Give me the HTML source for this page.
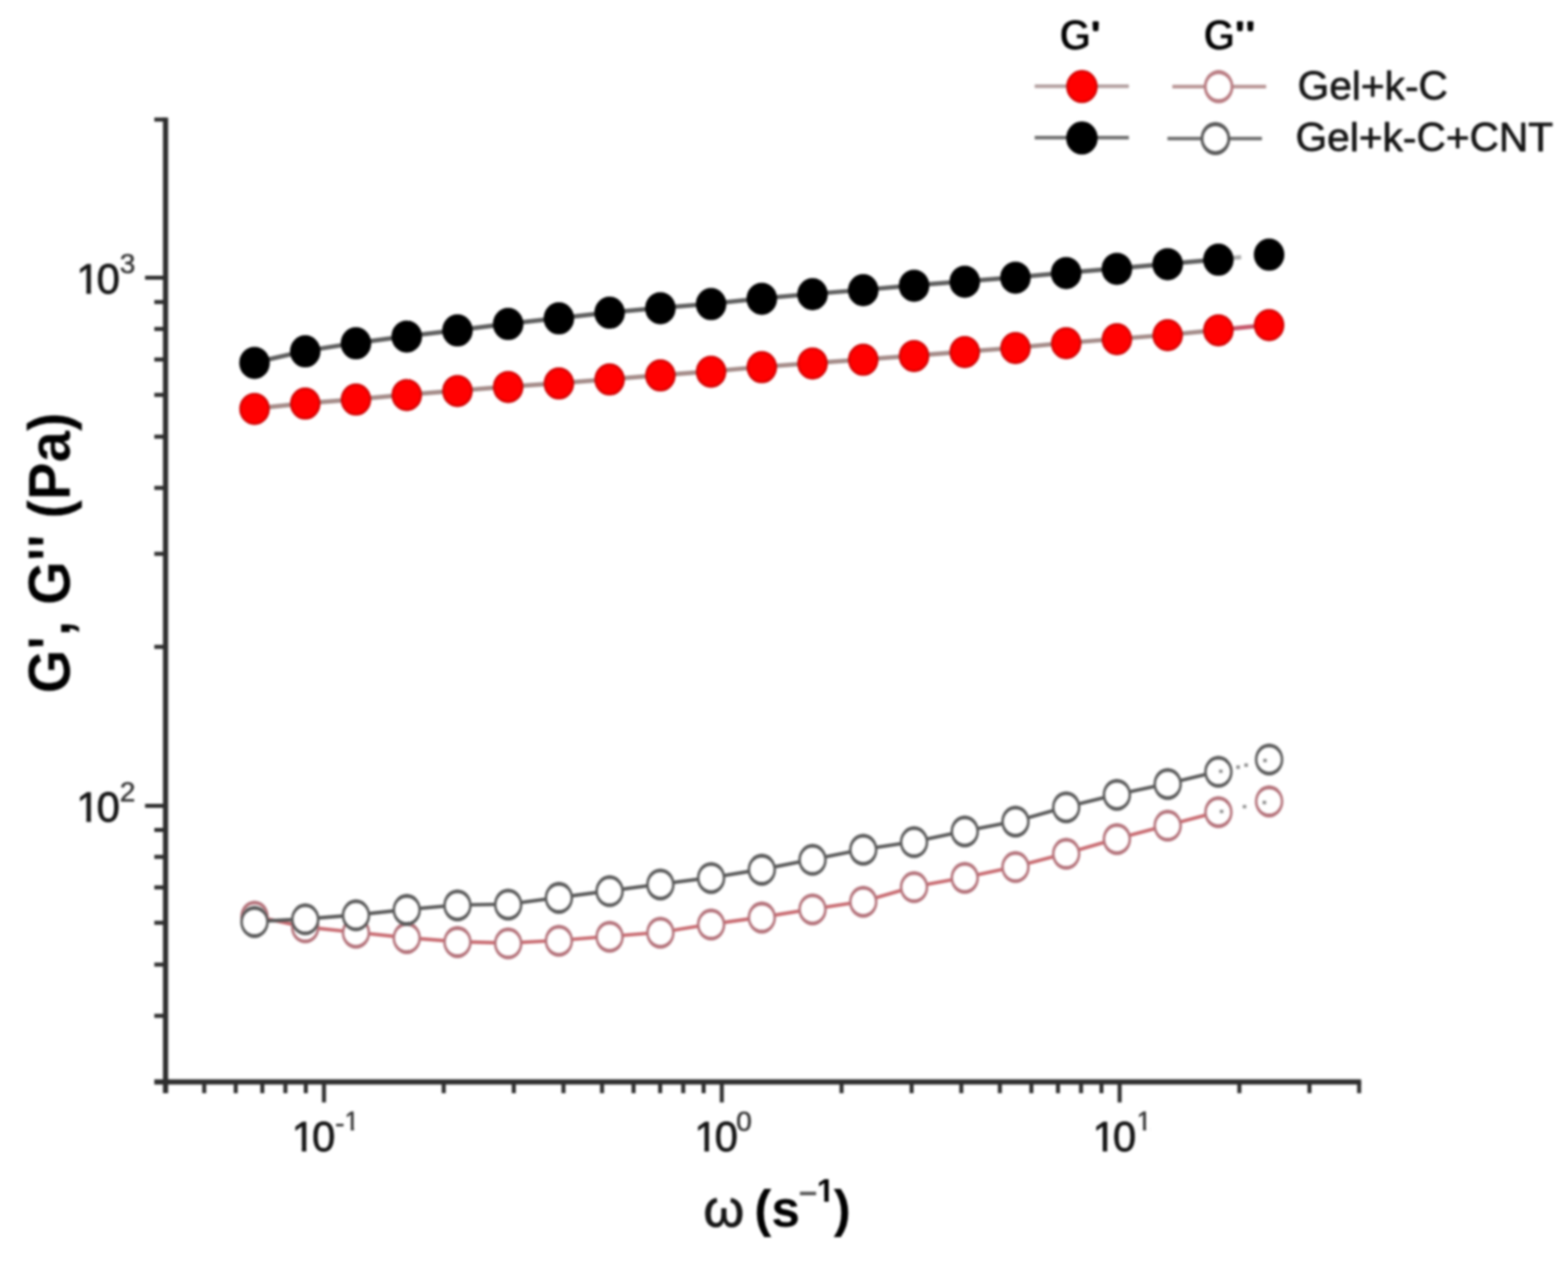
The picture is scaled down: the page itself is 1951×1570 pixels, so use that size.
<!DOCTYPE html>
<html lang="en">
<head>
<meta charset="utf-8">
<title>G', G'' vs angular frequency</title>
<style>
html,body{margin:0;padding:0;background:#fff;}
body{width:1951px;height:1570px;overflow:hidden;position:relative;}
svg{display:block;position:absolute;left:0;top:0;filter:blur(1.7px);}
text{font-family:"Liberation Sans",sans-serif;fill:#151515;}
text.b{font-weight:bold;fill:#000;stroke:#fff;stroke-width:1px;}
text.x{stroke:none;}
text.y{stroke-width:0.3px;}
text.x .m{fill:#555;}
text.b .q{stroke:#000;stroke-width:3px;stroke-linejoin:round;}
text.t{stroke:#151515;stroke-width:1px;stroke-linejoin:round;}
text.t .s{stroke:#333;stroke-width:0.6px;fill:#333;}
text.l{stroke:#151515;stroke-width:0.9px;stroke-linejoin:round;}
text.w{stroke:#151515;stroke-width:1.1px;stroke-linejoin:round;}
</style>
</head>
<body>
<svg role="img" aria-label="Storage modulus G' and loss modulus G'' versus angular frequency" width="1951" height="1570" viewBox="0 0 1951 1570">
<defs>
<clipPath id="k0" clipPathUnits="userSpaceOnUse"><path clip-rule="evenodd" d="M0 0H1951 V1570 H0Z M97.60 359.30 H107.55 V366.10 H97.60 Z M113.18 359.30 H122.56 V366.10 H113.18 Z"/></clipPath>
<clipPath id="k1" clipPathUnits="userSpaceOnUse"><path clip-rule="evenodd" d="M0 0H1951 V1570 H0Z M97.60 1016.30 H107.55 V1023.10 H97.60 Z M113.18 1016.30 H122.56 V1023.10 H113.18 Z"/></clipPath>
<clipPath id="k2" clipPathUnits="userSpaceOnUse"><path clip-rule="evenodd" d="M0 0H1951 V1570 H0Z M365.60 1426.30 H375.55 V1433.10 H365.60 Z M381.18 1426.30 H390.56 V1433.10 H381.18 Z M430.43 1402.06 H436.46 V1407.40 H430.43 Z M440.35 1402.06 H446.03 V1407.40 H440.35 Z"/></clipPath>
<clipPath id="k3" clipPathUnits="userSpaceOnUse"><path clip-rule="evenodd" d="M0 0H1951 V1570 H0Z M866.60 1426.30 H876.55 V1433.10 H866.60 Z M882.18 1426.30 H891.56 V1433.10 H882.18 Z"/></clipPath>
<clipPath id="k4" clipPathUnits="userSpaceOnUse"><path clip-rule="evenodd" d="M0 0H1951 V1570 H0Z M1362.10 1426.30 H1372.05 V1433.10 H1362.10 Z M1377.68 1426.30 H1387.06 V1433.10 H1377.68 Z M1416.12 1402.06 H1422.16 V1407.40 H1416.12 Z M1426.05 1402.06 H1431.72 V1407.40 H1426.05 Z"/></clipPath>
<clipPath id="k5" clipPathUnits="userSpaceOnUse"><path clip-rule="evenodd" d="M0 0H1951 V1570 H0Z M1017.90 1489.32 H1025.62 V1495.30 H1017.90 Z M1031.14 1489.32 H1038.30 V1495.30 H1031.14 Z"/></clipPath>
</defs>
<rect x="0" y="0" width="1951" height="1570" fill="#fff"/>
<g id="axes" stroke="#2e2e2e" fill="none" stroke-linecap="butt">
<path d="M206.0 146.2 V1360.0" stroke-width="6.5"/>
<path d="M192.0 1346.0 H1693.6" stroke-width="6.5"/>
<path d="M254.1 1346.0 v14.0 M293.3 1346.0 v14.0 M326.4 1346.0 v14.0 M355.1 1346.0 v14.0 M380.5 1346.0 v14.0 M403.1 1346.0 v25.5 M552.1 1346.0 v14.0 M639.3 1346.0 v14.0 M701.1 1346.0 v14.0 M749.1 1346.0 v14.0 M788.3 1346.0 v14.0 M821.4 1346.0 v14.0 M850.1 1346.0 v14.0 M875.5 1346.0 v14.0 M898.1 1346.0 v25.5 M1047.1 1346.0 v14.0 M1134.3 1346.0 v14.0 M1196.1 1346.0 v14.0 M1244.1 1346.0 v14.0 M1283.3 1346.0 v14.0 M1316.4 1346.0 v14.0 M1345.1 1346.0 v14.0 M1370.5 1346.0 v14.0 M1393.1 1346.0 v25.5 M1542.1 1346.0 v14.0 M1629.3 1346.0 v14.0 M1691.1 1346.0 v14.0" stroke-width="5.0"/>
<path d="M206.0 1263.8 h-14.0 M206.0 1200.1 h-14.0 M206.0 1148.1 h-14.0 M206.0 1104.1 h-14.0 M206.0 1066.1 h-14.0 M206.0 1032.5 h-14.0 M206.0 1002.4 h-25.5 M206.0 804.7 h-14.0 M206.0 689.0 h-14.0 M206.0 607.0 h-14.0 M206.0 543.3 h-14.0 M206.0 491.3 h-14.0 M206.0 447.3 h-14.0 M206.0 409.3 h-14.0 M206.0 375.7 h-14.0 M206.0 345.6 h-25.5 M206.0 148.7 h-14.0" stroke-width="5.0"/>
</g>
<g id="g2-gel-kc">
<path d="M316.7 1139.9 L379.8 1153.2 L442.9 1159.9 L506.1 1166.5 L569.2 1171.5 L632.3 1173.2 L695.4 1169.9 L758.5 1164.9 L821.7 1159.9 L884.8 1149.7 L947.9 1141.0 L1011.0 1130.8 L1074.1 1121.4 L1137.3 1103.2 L1200.4 1091.6 L1263.5 1078.2 L1326.6 1061.7 L1389.7 1043.4 L1452.9 1026.7 L1516.0 1009.9" fill="none" stroke="#c86a70" stroke-width="4.4"/>
<ellipse cx="316.7" cy="1140.4" rx="17.7" ry="19.9" fill="#b4727a"/><ellipse cx="316.7" cy="1140.4" rx="14.5" ry="15.1" fill="#fff"/>
<ellipse cx="379.8" cy="1153.7" rx="17.7" ry="19.9" fill="#b4727a"/><ellipse cx="379.8" cy="1153.7" rx="14.5" ry="15.1" fill="#fff"/>
<ellipse cx="442.9" cy="1160.4" rx="17.7" ry="19.9" fill="#b4727a"/><ellipse cx="442.9" cy="1160.4" rx="14.5" ry="15.1" fill="#fff"/>
<ellipse cx="506.1" cy="1167.0" rx="17.7" ry="19.9" fill="#b4727a"/><ellipse cx="506.1" cy="1167.0" rx="14.5" ry="15.1" fill="#fff"/>
<ellipse cx="569.2" cy="1172.0" rx="17.7" ry="19.9" fill="#b4727a"/><ellipse cx="569.2" cy="1172.0" rx="14.5" ry="15.1" fill="#fff"/>
<ellipse cx="632.3" cy="1173.7" rx="17.7" ry="19.9" fill="#b4727a"/><ellipse cx="632.3" cy="1173.7" rx="14.5" ry="15.1" fill="#fff"/>
<ellipse cx="695.4" cy="1170.4" rx="17.7" ry="19.9" fill="#b4727a"/><ellipse cx="695.4" cy="1170.4" rx="14.5" ry="15.1" fill="#fff"/>
<ellipse cx="758.5" cy="1165.4" rx="17.7" ry="19.9" fill="#b4727a"/><ellipse cx="758.5" cy="1165.4" rx="14.5" ry="15.1" fill="#fff"/>
<ellipse cx="821.7" cy="1160.4" rx="17.7" ry="19.9" fill="#b4727a"/><ellipse cx="821.7" cy="1160.4" rx="14.5" ry="15.1" fill="#fff"/>
<ellipse cx="884.8" cy="1150.2" rx="17.7" ry="19.9" fill="#b4727a"/><ellipse cx="884.8" cy="1150.2" rx="14.5" ry="15.1" fill="#fff"/>
<ellipse cx="947.9" cy="1141.5" rx="17.7" ry="19.9" fill="#b4727a"/><ellipse cx="947.9" cy="1141.5" rx="14.5" ry="15.1" fill="#fff"/>
<ellipse cx="1011.0" cy="1131.3" rx="17.7" ry="19.9" fill="#b4727a"/><ellipse cx="1011.0" cy="1131.3" rx="14.5" ry="15.1" fill="#fff"/>
<ellipse cx="1074.1" cy="1121.9" rx="17.7" ry="19.9" fill="#b4727a"/><ellipse cx="1074.1" cy="1121.9" rx="14.5" ry="15.1" fill="#fff"/>
<ellipse cx="1137.3" cy="1103.7" rx="17.7" ry="19.9" fill="#b4727a"/><ellipse cx="1137.3" cy="1103.7" rx="14.5" ry="15.1" fill="#fff"/>
<ellipse cx="1200.4" cy="1092.1" rx="17.7" ry="19.9" fill="#b4727a"/><ellipse cx="1200.4" cy="1092.1" rx="14.5" ry="15.1" fill="#fff"/>
<ellipse cx="1263.5" cy="1078.7" rx="17.7" ry="19.9" fill="#b4727a"/><ellipse cx="1263.5" cy="1078.7" rx="14.5" ry="15.1" fill="#fff"/>
<ellipse cx="1326.6" cy="1062.2" rx="17.7" ry="19.9" fill="#b4727a"/><ellipse cx="1326.6" cy="1062.2" rx="14.5" ry="15.1" fill="#fff"/>
<ellipse cx="1389.7" cy="1043.9" rx="17.7" ry="19.9" fill="#b4727a"/><ellipse cx="1389.7" cy="1043.9" rx="14.5" ry="15.1" fill="#fff"/>
<ellipse cx="1452.9" cy="1027.2" rx="17.7" ry="19.9" fill="#b4727a"/><ellipse cx="1452.9" cy="1027.2" rx="14.5" ry="15.1" fill="#fff"/>
<ellipse cx="1516.0" cy="1010.4" rx="17.7" ry="19.9" fill="#b4727a"/><ellipse cx="1516.0" cy="1010.4" rx="14.5" ry="15.1" fill="#fff"/>
<ellipse cx="1579.1" cy="997.0" rx="17.7" ry="19.9" fill="#b4727a"/><ellipse cx="1579.1" cy="997.0" rx="14.5" ry="15.1" fill="#fff"/>
<path d="M1517.8 1009.5 h4.4 M1546.3 1003.5 h4.4 M1571.0 998.3 h4.4" fill="none" stroke="#777" stroke-width="4.2" stroke-opacity="0.85"/>
</g>
<g id="g2-gel-kc-cnt">
<path d="M316.7 1146.5 L379.8 1143.2 L442.9 1138.2 L506.1 1131.5 L569.2 1125.9 L632.3 1124.9 L695.4 1116.5 L758.5 1108.2 L821.7 1099.9 L884.8 1091.8 L947.9 1081.5 L1011.0 1069.2 L1074.1 1056.6 L1137.3 1047.2 L1200.4 1033.9 L1263.5 1021.6 L1326.6 1003.9 L1389.7 988.3 L1452.9 974.9 L1516.0 959.7" fill="none" stroke="#585858" stroke-width="4.4"/>
<ellipse cx="316.7" cy="1147.0" rx="17.7" ry="19.9" fill="#5a5a5a"/><ellipse cx="316.7" cy="1147.0" rx="14.5" ry="15.1" fill="#fff"/>
<ellipse cx="379.8" cy="1143.7" rx="17.7" ry="19.9" fill="#5a5a5a"/><ellipse cx="379.8" cy="1143.7" rx="14.5" ry="15.1" fill="#fff"/>
<ellipse cx="442.9" cy="1138.7" rx="17.7" ry="19.9" fill="#5a5a5a"/><ellipse cx="442.9" cy="1138.7" rx="14.5" ry="15.1" fill="#fff"/>
<ellipse cx="506.1" cy="1132.0" rx="17.7" ry="19.9" fill="#5a5a5a"/><ellipse cx="506.1" cy="1132.0" rx="14.5" ry="15.1" fill="#fff"/>
<ellipse cx="569.2" cy="1126.4" rx="17.7" ry="19.9" fill="#5a5a5a"/><ellipse cx="569.2" cy="1126.4" rx="14.5" ry="15.1" fill="#fff"/>
<ellipse cx="632.3" cy="1125.4" rx="17.7" ry="19.9" fill="#5a5a5a"/><ellipse cx="632.3" cy="1125.4" rx="14.5" ry="15.1" fill="#fff"/>
<ellipse cx="695.4" cy="1117.0" rx="17.7" ry="19.9" fill="#5a5a5a"/><ellipse cx="695.4" cy="1117.0" rx="14.5" ry="15.1" fill="#fff"/>
<ellipse cx="758.5" cy="1108.7" rx="17.7" ry="19.9" fill="#5a5a5a"/><ellipse cx="758.5" cy="1108.7" rx="14.5" ry="15.1" fill="#fff"/>
<ellipse cx="821.7" cy="1100.4" rx="17.7" ry="19.9" fill="#5a5a5a"/><ellipse cx="821.7" cy="1100.4" rx="14.5" ry="15.1" fill="#fff"/>
<ellipse cx="884.8" cy="1092.3" rx="17.7" ry="19.9" fill="#5a5a5a"/><ellipse cx="884.8" cy="1092.3" rx="14.5" ry="15.1" fill="#fff"/>
<ellipse cx="947.9" cy="1082.0" rx="17.7" ry="19.9" fill="#5a5a5a"/><ellipse cx="947.9" cy="1082.0" rx="14.5" ry="15.1" fill="#fff"/>
<ellipse cx="1011.0" cy="1069.7" rx="17.7" ry="19.9" fill="#5a5a5a"/><ellipse cx="1011.0" cy="1069.7" rx="14.5" ry="15.1" fill="#fff"/>
<ellipse cx="1074.1" cy="1057.1" rx="17.7" ry="19.9" fill="#5a5a5a"/><ellipse cx="1074.1" cy="1057.1" rx="14.5" ry="15.1" fill="#fff"/>
<ellipse cx="1137.3" cy="1047.7" rx="17.7" ry="19.9" fill="#5a5a5a"/><ellipse cx="1137.3" cy="1047.7" rx="14.5" ry="15.1" fill="#fff"/>
<ellipse cx="1200.4" cy="1034.4" rx="17.7" ry="19.9" fill="#5a5a5a"/><ellipse cx="1200.4" cy="1034.4" rx="14.5" ry="15.1" fill="#fff"/>
<ellipse cx="1263.5" cy="1022.1" rx="17.7" ry="19.9" fill="#5a5a5a"/><ellipse cx="1263.5" cy="1022.1" rx="14.5" ry="15.1" fill="#fff"/>
<ellipse cx="1326.6" cy="1004.4" rx="17.7" ry="19.9" fill="#5a5a5a"/><ellipse cx="1326.6" cy="1004.4" rx="14.5" ry="15.1" fill="#fff"/>
<ellipse cx="1389.7" cy="988.8" rx="17.7" ry="19.9" fill="#5a5a5a"/><ellipse cx="1389.7" cy="988.8" rx="14.5" ry="15.1" fill="#fff"/>
<ellipse cx="1452.9" cy="975.4" rx="17.7" ry="19.9" fill="#5a5a5a"/><ellipse cx="1452.9" cy="975.4" rx="14.5" ry="15.1" fill="#fff"/>
<ellipse cx="1516.0" cy="960.2" rx="17.7" ry="19.9" fill="#5a5a5a"/><ellipse cx="1516.0" cy="960.2" rx="14.5" ry="15.1" fill="#fff"/>
<ellipse cx="1579.1" cy="944.9" rx="17.7" ry="19.9" fill="#5a5a5a"/><ellipse cx="1579.1" cy="944.9" rx="14.5" ry="15.1" fill="#fff"/>
<path d="M1516.8 959.5 h4.4 M1538.3 954.3 h4.4 M1548.3 951.8 h4.4 M1571.8 946.1 h4.4" fill="none" stroke="#777" stroke-width="4.2" stroke-opacity="0.85"/>
</g>
<g id="g1-gel-kc">
<path d="M316.7 508.3 L379.8 501.7 L442.9 496.7 L506.1 491.0 L569.2 486.0 L632.3 481.0 L695.4 476.7 L758.5 471.7 L821.7 466.7 L884.8 462.0 L947.9 456.4 L1011.0 451.8 L1074.1 447.2 L1137.3 442.5 L1200.4 437.5 L1263.5 432.6 L1326.6 426.6 L1389.7 421.6 L1452.9 416.6 L1516.0 410.5" fill="none" stroke="#a48b88" stroke-width="5.4"/>
<path d="M1516.0 410.5 L1579.1 404.1" fill="none" stroke="#c4566a" stroke-width="5.4"/>
<ellipse cx="316.7" cy="508.7" rx="17.8" ry="18.8" fill="#ff0000" stroke="#cf0000" stroke-width="2.4"/>
<ellipse cx="379.8" cy="502.1" rx="17.8" ry="18.8" fill="#ff0000" stroke="#cf0000" stroke-width="2.4"/>
<ellipse cx="442.9" cy="497.1" rx="17.8" ry="18.8" fill="#ff0000" stroke="#cf0000" stroke-width="2.4"/>
<ellipse cx="506.1" cy="491.4" rx="17.8" ry="18.8" fill="#ff0000" stroke="#cf0000" stroke-width="2.4"/>
<ellipse cx="569.2" cy="486.4" rx="17.8" ry="18.8" fill="#ff0000" stroke="#cf0000" stroke-width="2.4"/>
<ellipse cx="632.3" cy="481.4" rx="17.8" ry="18.8" fill="#ff0000" stroke="#cf0000" stroke-width="2.4"/>
<ellipse cx="695.4" cy="477.1" rx="17.8" ry="18.8" fill="#ff0000" stroke="#cf0000" stroke-width="2.4"/>
<ellipse cx="758.5" cy="472.1" rx="17.8" ry="18.8" fill="#ff0000" stroke="#cf0000" stroke-width="2.4"/>
<ellipse cx="821.7" cy="467.1" rx="17.8" ry="18.8" fill="#ff0000" stroke="#cf0000" stroke-width="2.4"/>
<ellipse cx="884.8" cy="462.4" rx="17.8" ry="18.8" fill="#ff0000" stroke="#cf0000" stroke-width="2.4"/>
<ellipse cx="947.9" cy="456.8" rx="17.8" ry="18.8" fill="#ff0000" stroke="#cf0000" stroke-width="2.4"/>
<ellipse cx="1011.0" cy="452.2" rx="17.8" ry="18.8" fill="#ff0000" stroke="#cf0000" stroke-width="2.4"/>
<ellipse cx="1074.1" cy="447.6" rx="17.8" ry="18.8" fill="#ff0000" stroke="#cf0000" stroke-width="2.4"/>
<ellipse cx="1137.3" cy="442.9" rx="17.8" ry="18.8" fill="#ff0000" stroke="#cf0000" stroke-width="2.4"/>
<ellipse cx="1200.4" cy="437.9" rx="17.8" ry="18.8" fill="#ff0000" stroke="#cf0000" stroke-width="2.4"/>
<ellipse cx="1263.5" cy="433.0" rx="17.8" ry="18.8" fill="#ff0000" stroke="#cf0000" stroke-width="2.4"/>
<ellipse cx="1326.6" cy="427.0" rx="17.8" ry="18.8" fill="#ff0000" stroke="#cf0000" stroke-width="2.4"/>
<ellipse cx="1389.7" cy="422.0" rx="17.8" ry="18.8" fill="#ff0000" stroke="#cf0000" stroke-width="2.4"/>
<ellipse cx="1452.9" cy="417.0" rx="17.8" ry="18.8" fill="#ff0000" stroke="#cf0000" stroke-width="2.4"/>
<ellipse cx="1516.0" cy="410.9" rx="17.8" ry="18.8" fill="#ff0000" stroke="#cf0000" stroke-width="2.4"/>
<ellipse cx="1579.1" cy="404.5" rx="17.8" ry="18.8" fill="#ff0000" stroke="#cf0000" stroke-width="2.4"/>
</g>
<g id="g1-gel-kc-cnt">
<path d="M316.7 451.0 L379.8 436.7 L442.9 426.7 L506.1 418.3 L569.2 410.7 L632.3 402.7 L695.4 395.7 L758.5 388.7 L821.7 383.0 L884.8 377.9 L947.9 371.3 L1011.0 365.6 L1074.1 360.6 L1137.3 355.0 L1200.4 350.0 L1263.5 345.0 L1326.6 339.3 L1389.7 334.0 L1452.9 328.3 L1516.0 322.7" fill="none" stroke="#5e5e5e" stroke-width="5.4"/>
<path d="M1516.0 322.7 L1544.4 319.9" fill="none" stroke="#5e5e5e" stroke-width="5.4" stroke-opacity="0.5"/>
<ellipse cx="316.7" cy="451.4" rx="17.8" ry="18.8" fill="#000" stroke="#000" stroke-width="2.4"/>
<ellipse cx="379.8" cy="437.1" rx="17.8" ry="18.8" fill="#000" stroke="#000" stroke-width="2.4"/>
<ellipse cx="442.9" cy="427.1" rx="17.8" ry="18.8" fill="#000" stroke="#000" stroke-width="2.4"/>
<ellipse cx="506.1" cy="418.7" rx="17.8" ry="18.8" fill="#000" stroke="#000" stroke-width="2.4"/>
<ellipse cx="569.2" cy="411.1" rx="17.8" ry="18.8" fill="#000" stroke="#000" stroke-width="2.4"/>
<ellipse cx="632.3" cy="403.1" rx="17.8" ry="18.8" fill="#000" stroke="#000" stroke-width="2.4"/>
<ellipse cx="695.4" cy="396.1" rx="17.8" ry="18.8" fill="#000" stroke="#000" stroke-width="2.4"/>
<ellipse cx="758.5" cy="389.1" rx="17.8" ry="18.8" fill="#000" stroke="#000" stroke-width="2.4"/>
<ellipse cx="821.7" cy="383.4" rx="17.8" ry="18.8" fill="#000" stroke="#000" stroke-width="2.4"/>
<ellipse cx="884.8" cy="378.3" rx="17.8" ry="18.8" fill="#000" stroke="#000" stroke-width="2.4"/>
<ellipse cx="947.9" cy="371.7" rx="17.8" ry="18.8" fill="#000" stroke="#000" stroke-width="2.4"/>
<ellipse cx="1011.0" cy="366.0" rx="17.8" ry="18.8" fill="#000" stroke="#000" stroke-width="2.4"/>
<ellipse cx="1074.1" cy="361.0" rx="17.8" ry="18.8" fill="#000" stroke="#000" stroke-width="2.4"/>
<ellipse cx="1137.3" cy="355.4" rx="17.8" ry="18.8" fill="#000" stroke="#000" stroke-width="2.4"/>
<ellipse cx="1200.4" cy="350.4" rx="17.8" ry="18.8" fill="#000" stroke="#000" stroke-width="2.4"/>
<ellipse cx="1263.5" cy="345.4" rx="17.8" ry="18.8" fill="#000" stroke="#000" stroke-width="2.4"/>
<ellipse cx="1326.6" cy="339.7" rx="17.8" ry="18.8" fill="#000" stroke="#000" stroke-width="2.4"/>
<ellipse cx="1389.7" cy="334.4" rx="17.8" ry="18.8" fill="#000" stroke="#000" stroke-width="2.4"/>
<ellipse cx="1452.9" cy="328.7" rx="17.8" ry="18.8" fill="#000" stroke="#000" stroke-width="2.4"/>
<ellipse cx="1516.0" cy="323.1" rx="17.8" ry="18.8" fill="#000" stroke="#000" stroke-width="2.4"/>
<ellipse cx="1579.1" cy="316.8" rx="17.8" ry="18.8" fill="#000" stroke="#000" stroke-width="2.4"/>
</g>
<g id="legend">
<path d="M1287.4 107.3 H1404.6" stroke="#b3a0a0" stroke-width="4.4" fill="none"/>
<ellipse cx="1346.2" cy="107.7" rx="18.4" ry="19.4" fill="#ff0000" stroke="#cf0000" stroke-width="2.4"/>
<path d="M1287.4 171.3 H1404.6" stroke="#707070" stroke-width="4.4" fill="none"/>
<ellipse cx="1346.2" cy="171.7" rx="18.4" ry="19.4" fill="#000" stroke="#000" stroke-width="2.4"/>
<path d="M1458.7 107.8 H1575.4" stroke="#b89494" stroke-width="4.4" fill="none"/>
<ellipse cx="1516.3" cy="107.8" rx="18.5" ry="20.7" fill="#b97c82"/><ellipse cx="1516.3" cy="107.8" rx="14.9" ry="15.5" fill="#fff"/>
<path d="M1452.6 172.4 H1570.2" stroke="#6a6a6a" stroke-width="4.4" fill="none"/>
<ellipse cx="1512.3" cy="172.4" rx="18.5" ry="20.7" fill="#585858"/><ellipse cx="1512.3" cy="172.4" rx="14.9" ry="15.5" fill="#fff"/>
<text class="b" font-size="51" transform="translate(0 62.4) scale(1 1.04)"><tspan x="1318.1" y="0">G</tspan><tspan class="q" x="1359.0" y="-8.3" font-size="36">'</tspan></text>
<text class="b" font-size="51" transform="translate(0 62.4) scale(1 1.04)"><tspan x="1497.3" y="0">G</tspan><tspan class="q" x="1538.5" y="-8.3" font-size="36">'</tspan><tspan class="q" x="1551.6" y="-8.3" font-size="36">'</tspan></text>
<text class="l" x="1614.6" y="124.2" font-size="50.6">Gel+k-C</text>
<text class="l" x="1612.0" y="188.2" font-size="50.6">Gel+k-C+CNT</text>
</g>
<g id="ticklabels" font-size="52">
<text class="t" clip-path="url(#k0)"><tspan x="95.0" y="365.0">1</tspan><tspan x="120.3" y="365.0">0</tspan><tspan x="149.0" y="340.3" font-size="35" class="s">3</tspan></text>
<text class="t" clip-path="url(#k1)"><tspan x="95.0" y="1022.0">1</tspan><tspan x="120.3" y="1022.0">0</tspan><tspan x="149.0" y="997.3" font-size="35" class="s">2</tspan></text>
<text class="t" clip-path="url(#k2)"><tspan x="363.0" y="1432.0">1</tspan><tspan x="388.3" y="1432.0">0</tspan><tspan x="417.0" y="1408.7" font-size="35" class="s">-</tspan><tspan x="428.8" y="1406.3" font-size="32.5" class="s">1</tspan></text>
<text class="t" clip-path="url(#k3)"><tspan x="864.0" y="1432.0">1</tspan><tspan x="889.3" y="1432.0">0</tspan><tspan x="916.0" y="1407.0" font-size="35" class="s">0</tspan></text>
<text class="t" clip-path="url(#k4)"><tspan x="1359.5" y="1432.0">1</tspan><tspan x="1384.8" y="1432.0">0</tspan><tspan x="1414.5" y="1406.3" font-size="32.5" class="s">1</tspan></text>
</g>
<text class="b y" font-size="70" transform="translate(86.8 862.5) rotate(-90) scale(1 1.05)">G', G'' (Pa)</text>
<g id="xtitle">
<text class="w" x="875.3" y="1526" font-size="65">ω</text>
<text class="b x" font-size="64" clip-path="url(#k5)"><tspan x="938.5" y="1525.5">(s</tspan><tspan class="m" x="993.5" y="1497.6" font-size="40">−</tspan><tspan x="1016.3" y="1494.7" font-size="40">1</tspan><tspan x="1037.3" y="1525.5">)</tspan></text>
</g>
</svg>
</body>
</html>
